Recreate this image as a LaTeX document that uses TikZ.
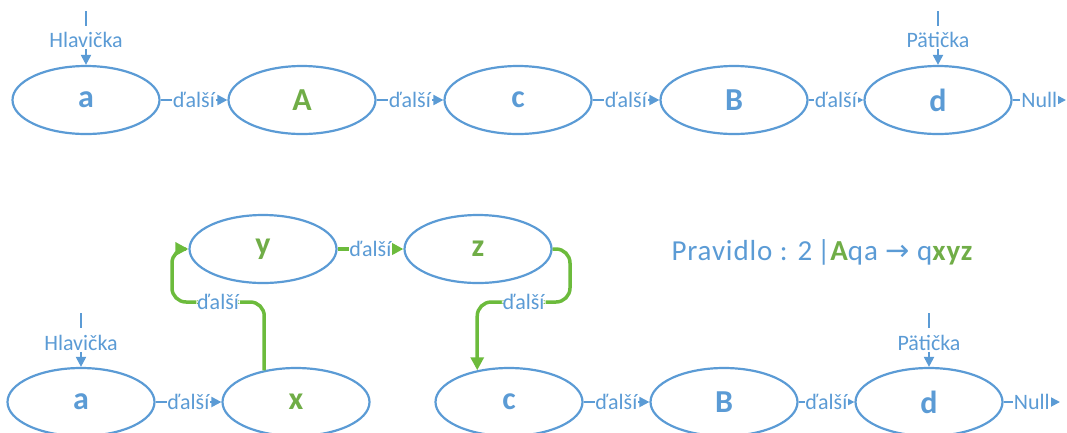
\documentclass[tikz,border=0pt]{standalone}
\usepackage{fontspec}
\setmainfont{Carlito}
\newfontfamily\symfont{DejaVu Sans}
\usetikzlibrary{shapes.geometric}
\usetikzlibrary{arrows.meta}

\definecolor{listblue}{HTML}{5B9BD5}
\definecolor{listgreen}{HTML}{70AD47}
\definecolor{movegreen}{HTML}{6CBB3C}

\tikzset{
	item/.style={ellipse,draw=listblue,line width=2.2pt,minimum width=147pt,minimum height=68pt,inner sep=0pt,
		font=\fontsize{32}{35}\selectfont\bfseries,text=listblue},
	newitem/.style={item,text=listgreen},
	ptr/.style={font=\fontsize{22}{24}\selectfont,text=listblue,inner sep=1pt},
	lbl/.style={ptr,fill=white},
	link/.style={draw=listblue,line width=2pt,-{Triangle[length=10pt,width=10pt]}},
	tick/.style={draw=listblue,line width=2pt},
	move/.style={draw=movegreen,line width=3.5pt,rounded corners=14pt,-{Triangle[length=13pt,width=13pt]}}
}

\begin{document}
\begin{tikzpicture}[x=1pt,y=-1pt]
	\useasboundingbox (0,0) rectangle (1067,432);
	\clip (0,0) rectangle (1067,432);

	% list before the rule
	\node[item] (a1) at (86,100) {a};
	\node[newitem] (A1) at (302,100) {A};
	\node[item] (c1) at (518,100) {c};
	\node[item] (B1) at (734,100) {B};
	\node[item] (d1) at (938,100) {d};

	\node[ptr] (hl1) at (86,40) {Hlavička};
	\node[ptr] (pt1) at (938,40) {Pätička};
	\coordinate (hl1t) at (86,11);
	\coordinate (hl1b) at (86,26);
	\coordinate (pt1t) at (938,11);
	\coordinate (pt1b) at (938,26);
	\coordinate (null1) at (1066,100);

	\draw[tick] (hl1t) -- (hl1b);
	\draw[tick] (pt1t) -- (pt1b);
	\draw[link] (hl1) -- (a1);
	\draw[link] (pt1) -- (d1);

	\draw[link] (a1) -- node[lbl]{ďalší} (A1);
	\draw[link] (A1) -- node[lbl]{ďalší} (c1);
	\draw[link] (c1) -- node[lbl]{ďalší} (B1);
	\draw[link] (B1) -- node[lbl]{ďalší} (d1);
	\draw[link] (d1) -- node[lbl]{Null} (null1);

	% list after the rule
	\node[item] (a2) at (81,402) {a};
	\node[newitem] (x2) at (296,402) {x};
	\node[newitem] (y2) at (263,249) {y};
	\node[newitem] (z2) at (478,249) {z};
	\node[item] (c2) at (509,402) {c};
	\node[item] (B2) at (724,402) {B};
	\node[item] (d2) at (929,402) {d};

	\node[ptr] (hl2) at (81,343) {Hlavička};
	\node[ptr] (pt2) at (929,343) {Pätička};
	\coordinate (hl2t) at (81,313);
	\coordinate (hl2b) at (81,328);
	\coordinate (pt2t) at (929,313);
	\coordinate (pt2b) at (929,328);
	\coordinate (null2) at (1060,402);

	\draw[tick] (hl2t) -- (hl2b);
	\draw[tick] (pt2t) -- (pt2b);
	\draw[link] (hl2) -- (a2);
	\draw[link] (pt2) -- (d2);

	\draw[link] (a2) -- node[lbl]{ďalší} (x2);
	\draw[link] (c2) -- node[lbl]{ďalší} (B2);
	\draw[link] (B2) -- node[lbl]{ďalší} (d2);
	\draw[link] (d2) -- node[lbl]{Null} (null2);

	% inserted nodes
	\coordinate (xy) at (172,302);
	\coordinate (zc) at (570,302);
	\draw[move] (x2.135) |- node[lbl,pos=0.75]{ďalší} (xy) |- (y2.west);
	\draw[link,draw=movegreen,line width=3.5pt,-{Triangle[length=12pt,width=12pt]}] (y2) -- node[lbl]{ďalší} (z2);
	\draw[move] (z2.east) -| (zc) -| node[lbl,pos=0.25]{ďalší} (c2.135);

	% the rule
	\node[font=\fontsize{29}{32}\selectfont\addfontfeature{LetterSpace=3},text=listblue,inner sep=0pt] (rule) at (822,252)
		{Pravidlo : 2\,|{\bfseries\color{listgreen}A}qa {\symfont →} q{\bfseries\color{listgreen}xyz}};
\end{tikzpicture}
\end{document}
